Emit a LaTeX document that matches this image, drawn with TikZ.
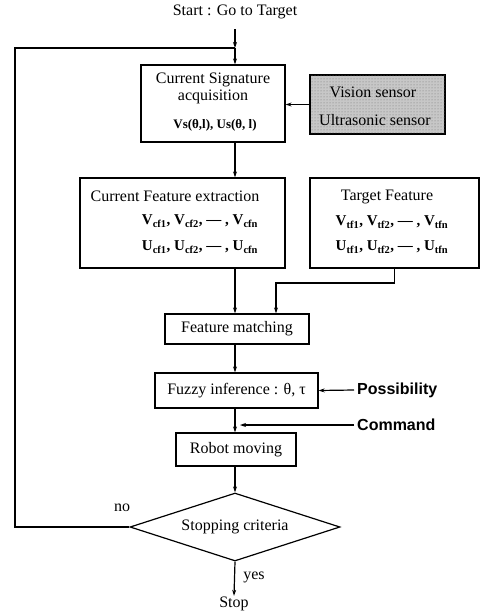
\documentclass[tikz,border=0pt]{standalone}
\usepackage{fontspec}
\setmainfont{Liberation Serif}
\newfontfamily\lsans{Liberation Sans}
\usetikzlibrary{shapes.geometric,arrows.meta,calc,patterns}
\newcommand\vs[2]{#1\textsubscript{#2}}
\begin{document}
\begin{tikzpicture}[x=1pt,y=-1pt]
\tikzset{
 boxst/.style={draw, line width=1.2pt, inner sep=0pt},
 lbl/.style={font=\fontsize{16}{18}\selectfont, inner sep=1pt},
 frm/.style={font=\bfseries\fontsize{15}{17}\selectfont, inner sep=1pt},
 side/.style={font=\lsans\bfseries\fontsize{16}{18}\selectfont, inner sep=3pt, anchor=west},
 conn/.style={line width=1.2pt},
 arr/.style={conn, -{Stealth[length=6pt,width=4pt]}},
}
\useasboundingbox (0,0) rectangle (483,613);
\coordinate (m) at (235,0);
\coordinate (j) at (235,48);
\coordinate (lpt) at (15,48);
\coordinate (tfb) at (276,283);

\node[lbl] (start) at (235,12) {Start : Go to Target};

\node[boxst, minimum width=144pt, minimum height=77pt] (sig) at (213,103.5) {};
\node[lbl] (sigt1) at (213,80) {Current Signature};
\node[lbl] (sigt2) at (213,97) {acquisition};
\node[font=\bfseries\fontsize{13}{15}\selectfont, inner sep=1pt] (sigt3) at (215,125) {Vs(θ,l), Us(θ, l)};

\node[boxst, minimum width=135pt, minimum height=59pt, fill=black!22,
      postaction={pattern=dots, pattern color=black!55}] (vis) at (377.5,104.5) {};
\node[lbl] (vist1) at (373,92) {Vision sensor};
\node[lbl] (vist2) at (375,120) {Ultrasonic sensor};

\node[boxst, minimum width=205pt, minimum height=90pt] (cf) at (182.5,223) {};
\node[lbl] (cft1) at (175,196) {Current Feature extraction};
\node[frm] (cft2) at (200,221) {\vs{V}{cf1}, \vs{V}{cf2}, --- , \vs{V}{cfn}};
\node[frm] (cft3) at (200,247) {\vs{U}{cf1}, \vs{U}{cf2}, --- , \vs{U}{cfn}};

\node[boxst, minimum width=169pt, minimum height=90pt] (tf) at (394.5,223) {};
\node[lbl] (tft1) at (387,197) {Target Feature};
\node[frm] (tft2) at (392,222) {\vs{V}{tf1}, \vs{V}{tf2}, --- , \vs{V}{tfn}};
\node[frm] (tft3) at (392,247) {\vs{U}{tf1}, \vs{U}{tf2}, --- , \vs{U}{tfn}};

\node[boxst, lbl, minimum width=144pt, minimum height=30pt] (fm) at (237,329) {Feature matching};
\node[boxst, lbl, minimum width=163pt, minimum height=35pt] (fz) at (236.5,390.5) {Fuzzy inference : θ, τ};
\node[boxst, lbl, minimum width=120pt, minimum height=33pt] (rm) at (236,449.5) {Robot moving};
\node[draw, diamond, line width=1.2pt, inner sep=0pt, aspect=3.1, minimum width=210pt, minimum height=68pt,
      font=\fontsize{16}{18}\selectfont] (dia) at (235,527) {Stopping criteria};

\node[side] (poss) at (354,390) {Possibility};
\node[side] (cmd) at (354,425) {Command};
\node[lbl] (no) at (122,508) {no};
\node[lbl] (yes) at (254,577) {yes};
\node[lbl] (stop) at (234,604) {Stop};

\draw[arr, shorten <=9pt] (start.south) -- (j);
\draw[arr] (j) -- (j |- sig.north);
\draw[arr] (vis.west) -- (sig.east |- vis.west);
\draw[arr] (sig.south -| m) -- (cf.north -| m);
\draw[arr] (cf.south -| m) -- (fm.north -| m);
\draw[arr] (tf.south) |- (tfb) -- (tfb |- fm.north);
\draw[arr] (fm.south -| m) -- (fz.north -| m);
\draw[arr] (poss.west) -- (fz.east);
\draw[arr] (fz.south -| m) -- (rm.north -| m);
\draw[arr] (cmd.west) -- ($(cmd.west -| m)+(5,0)$);
\draw[arr] (rm.south -| m) -- (dia.north);
\draw[conn] (dia.west) -| (lpt) -- (j);
\draw[arr] (dia.south) -- (stop.north);
\end{tikzpicture}
\end{document}
